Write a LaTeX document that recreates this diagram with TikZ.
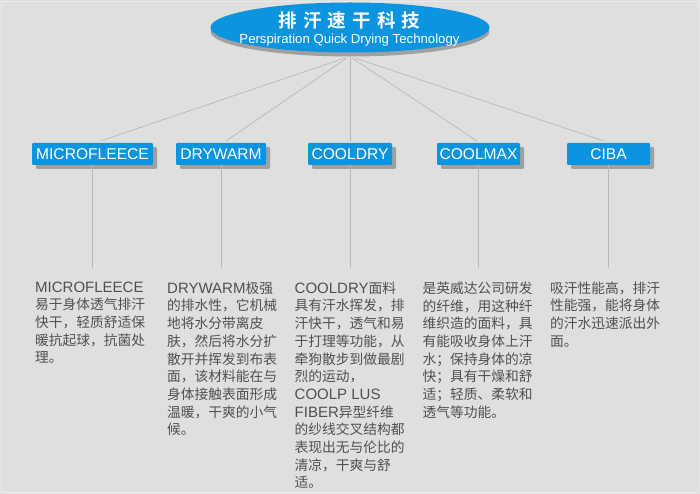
\documentclass[tikz,border=0pt]{standalone}
\usepackage{fontspec}
\setmainfont{Liberation Sans}
\newfontfamily\cjk{Noto Sans CJK SC}
\newfontfamily\cjkb{Noto Sans CJK SC Bold}
\newcommand{\lat}[1]{{\rmfamily\fontsize{15}{17.7}\selectfont #1}}
\definecolor{bgc}{HTML}{DFDFDD}
\definecolor{rim}{HTML}{EBEBEA}
\definecolor{blu}{HTML}{0D94DE}
\definecolor{shad}{HTML}{A0A0A0}
\definecolor{lnc}{HTML}{B8B8B8}
\definecolor{txc}{HTML}{505050}
\tikzset{x=1pt,y=-1pt,
 tag/.style={fill=blu,rounded corners=1.2pt,inner sep=0,text=white,font=\fontsize{15.6}{16}\selectfont,align=center,minimum height=22pt},
 shd/.style={fill=shad,rounded corners=1.2pt},
 lnk/.style={draw=lnc,line width=0.7pt},
 para/.style={anchor=north west,text=txc,inner sep=0,align=left,font=\fontsize{13.75}{17.7}\selectfont\cjk}}
\begin{document}
\begin{tikzpicture}
\useasboundingbox (0,0) rectangle (700,494);
\fill[bgc] (0,0) rectangle (700,494);
\draw[rim,line width=1pt] (1.5,2) rectangle (698.5,492);
\fill[shad] (350,31.5) ellipse [x radius=139.5,y radius=25];
\coordinate (hub) at (350,57);
% tag shadows
\foreach \x/\X in {36/157,180/270,312/396,441/524,571/654}
  \fill[shd] (\x,147) rectangle (\X,169);
\fill[blu] (350,27.5) ellipse [x radius=139.5,y radius=25];
\node[text=white,font=\fontsize{18.5}{19}\selectfont\cjkb] (t1) at (349.5,20) {排\,\,汗\,\,速\,\,干\,\,科\,\,技};
\node[text=white,font=\fontsize{13.2}{14}\selectfont] (t2) at (349.5,40) {Perspiration Quick Drying Technology};
% tags
\node[tag,minimum width=121pt] (a) at (92.5,154) {MICROFLEECE};
\node[tag,minimum width=90pt] (b) at (221,154) {DRYWARM};
\node[tag,minimum width=84pt] (c) at (350,154) {COOLDRY};
\node[tag,minimum width=83pt] (d) at (478.5,154) {COOLMAX};
\node[tag,minimum width=83pt] (e) at (608.5,154) {CIBA};
% texts
\node[para] (pa) at (35,281.5) {\lat{MICROFLEECE}\\易于身体透气排汗\\快干，轻质舒适保\\暖抗起球，抗菌处\\理。};
\node[para] (pb) at (167,281.5) {\lat{DRYWARM}极强\\的排水性，它机械\\地将水分带离皮\\肤，然后将水分扩\\散开并挥发到布表\\面，该材料能在与\\身体接触表面形成\\温暖，干爽的小气\\候。};
\node[para] (pc) at (294.5,281.5) {\lat{COOLDRY}面料\\具有汗水挥发，排\\汗快干，透气和易\\于打理等功能，从\\牵狗散步到做最剧\\烈的运动，\\\lat{COOLP LUS}\\\lat{FIBER}异型纤维\\的纱线交叉结构都\\表现出无与伦比的\\清凉，干爽与舒\\适。};
\node[para] (pd) at (422.5,281.5) {是英威达公司研发\\的纤维，用这种纤\\维织造的面料，具\\有能吸收身体上汗\\水；保持身体的凉\\快；具有干燥和舒\\适；轻质、柔软和\\透气等功能。};
\node[para] (pe) at (550,281.5) {吸汗性能高，排汗\\性能强，能将身体\\的汗水迅速派出外\\面。};
% connectors
\coordinate (ta) at (100.5,141);\coordinate (tb) at (226,141);\coordinate (tc) at (350,141);\coordinate (td) at (477,141);\coordinate (te) at (604,141);
\coordinate (h1) at (345,58);\coordinate (h2) at (347,58);\coordinate (h3) at (352,58);\coordinate (h4) at (355,58);
\draw[lnk] (h1) -- (ta);
\draw[lnk] (h2) -- (tb);
\draw[lnk] (hub) -- (tc);
\draw[lnk] (h3) -- (td);
\draw[lnk] (h4) -- (te);
\foreach \n/\xx in {a/92,b/221,c/350,d/478,e/608}{
  \coordinate (s\n) at (\xx,268);
  \draw[lnk] (\n.south -| s\n) -- (s\n);
}
\end{tikzpicture}
\end{document}
